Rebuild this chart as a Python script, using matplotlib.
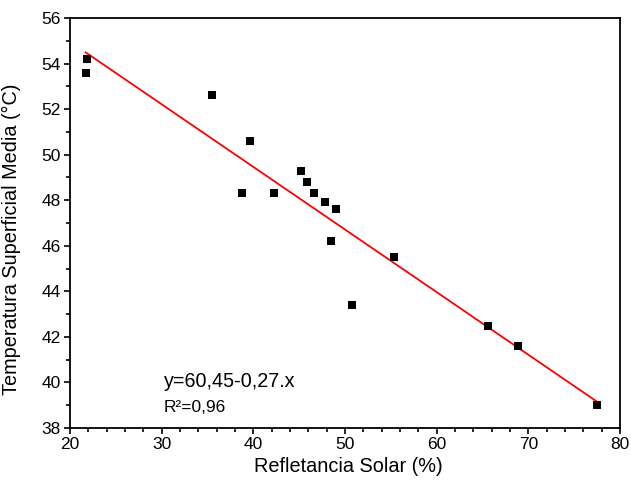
import matplotlib
matplotlib.use('Agg')
import matplotlib.pyplot as plt
import numpy as np
from matplotlib.ticker import MultipleLocator

plt.rcParams['font.family'] = ['Liberation Sans', 'DejaVu Sans']

# data
refletancia = [21.8, 21.7, 35.5, 39.6, 38.8, 42.2, 45.2, 45.8, 46.6,
               47.8, 49.0, 48.5, 55.3, 50.8, 65.6, 68.9, 77.5]
temperatura = [54.2, 53.6, 52.6, 50.6, 48.3, 48.3, 49.3, 48.8, 48.3,
               47.9, 47.6, 46.2, 45.5, 43.4, 42.5, 41.6, 39.0]

x = np.array(refletancia)
y = np.array(temperatura)
slope, intercept = np.polyfit(x, y, 1)

fig = plt.figure(figsize=(6.31, 4.82), dpi=100)
ax = fig.add_axes([0.111, 0.112, 0.8716, 0.8507])

ax.scatter(x, y, marker='s', s=40, color='black', zorder=3, linewidths=0)
xf = np.array([x.min(), x.max()])
ax.plot(xf, intercept + slope * xf, color='red', lw=1.3, zorder=2)

ax.set_xlim(20, 80)
ax.set_ylim(38, 56)
ax.xaxis.set_major_locator(MultipleLocator(10))
ax.xaxis.set_minor_locator(MultipleLocator(2))
ax.yaxis.set_major_locator(MultipleLocator(2))
ax.yaxis.set_minor_locator(MultipleLocator(1))
ax.tick_params(which='major', direction='out', length=4.5, width=1.2, labelsize=12.5,
               top=False, right=False, pad=2)
ax.tick_params(which='minor', direction='out', length=3, width=1.2, top=False, right=False)
for sp in ax.spines.values():
    sp.set_linewidth(1.3)

ax.set_xlabel('Refletancia Solar (%)', fontsize=14.3)
ax.set_ylabel('Temperatura Superficial Media (°C)', fontsize=14.3)
ax.xaxis.set_label_coords(0.506, -0.071)
ax.yaxis.set_label_coords(-0.089, 0.461)

ax.text(30.25, 39.82, 'y=60,45-0,27.x', fontsize=14.2, va='baseline')
ax.text(30.25, 38.72, 'R²=0,96', fontsize=12.5, va='baseline')

fig.savefig('out.png', dpi=100)
